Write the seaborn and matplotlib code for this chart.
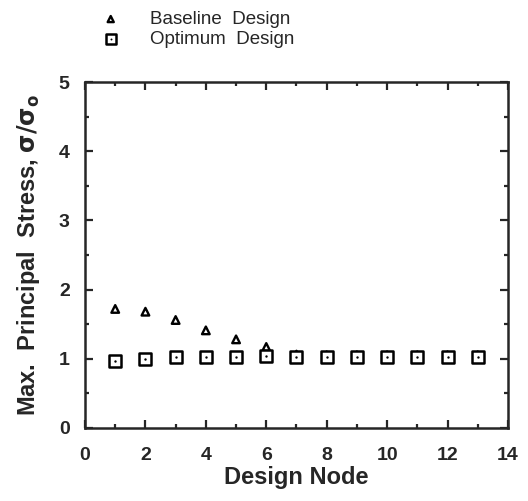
import matplotlib
matplotlib.use("Agg")
import matplotlib.pyplot as plt
import seaborn as sns
import pandas as pd
from matplotlib.ticker import MultipleLocator
from matplotlib.legend_handler import HandlerTuple

# values
nodes = [1, 2, 3, 4, 5, 6, 7, 8, 9, 10, 11, 12, 13]
baseline = [1.72, 1.68, 1.56, 1.41, 1.28, 1.17, 1.06, 1.05, 1.05, 1.05, 1.05, 1.05, 1.05]
optimum = [0.97, 1.00, 1.03, 1.03, 1.03, 1.04, 1.03, 1.03, 1.03, 1.03, 1.03, 1.03, 1.03]

df_base = pd.DataFrame({"node": nodes, "stress": baseline})
df_opt = pd.DataFrame({"node": nodes, "stress": optimum})

sns.set_style("ticks")
plt.rcParams["font.family"] = ["Liberation Sans", "DejaVu Sans"]

fig = plt.figure(figsize=(5.28, 5.01), dpi=100)
ax = fig.add_axes([0.161, 0.146, 0.801, 0.690])

sns.scatterplot(data=df_base, x="node", y="stress", ax=ax, marker="^", s=30,
                facecolor="none", edgecolor="black", linewidth=1.7, zorder=3,
                label="Baseline  Design")
sns.scatterplot(data=df_opt, x="node", y="stress", ax=ax, marker="s", s=70,
                facecolor="white", edgecolor="black", linewidth=1.8, zorder=4,
                label="Optimum  Design")
sns.scatterplot(data=df_opt, x="node", y="stress", ax=ax, marker="o", s=3,
                color="black", linewidth=0, zorder=5, label="_dot")

ax.set_xlim(0, 14)
ax.set_ylim(0, 5)
ax.xaxis.set_major_locator(MultipleLocator(2))
ax.xaxis.set_minor_locator(MultipleLocator(1))
ax.yaxis.set_major_locator(MultipleLocator(1))
ax.yaxis.set_minor_locator(MultipleLocator(0.5))
ax.tick_params(which="both", direction="in", top=True, right=True, width=1.6)
ax.tick_params(which="major", length=6, labelsize=14)
ax.tick_params(axis="x", which="major", pad=14)
ax.tick_params(axis="y", which="major", pad=11)
ax.tick_params(which="minor", length=3)
for lab in ax.get_xticklabels() + ax.get_yticklabels():
    lab.set_fontweight("bold")
for sp in ax.spines.values():
    sp.set_linewidth(1.8)

ax.set_xlabel("Design Node", fontsize=17, fontweight="bold", labelpad=1)
ax.set_ylabel(r"Max.  Principal  Stress, $\mathbf{\sigma/\sigma_o}$", fontsize=17,
              fontweight="bold", labelpad=12)

# legend above the axes
handles, labels = ax.get_legend_handles_labels()
h_tri = handles[labels.index("Baseline  Design")]
h_sq = handles[labels.index("Optimum  Design")]
h_dot = ax.collections[2]
ax.legend([h_tri, (h_sq, h_dot)], ["Baseline  Design", "Optimum  Design"],
          handler_map={tuple: HandlerTuple(ndivide=1, pad=0)},
          loc="upper left", bbox_to_anchor=(0.16, 1.012), bbox_transform=fig.transFigure,
          frameon=False, fontsize=13.5, handlelength=1.0, handletextpad=1.6,
          labelspacing=0.15, markerscale=0.8)

fig.savefig("out.png", dpi=100)
